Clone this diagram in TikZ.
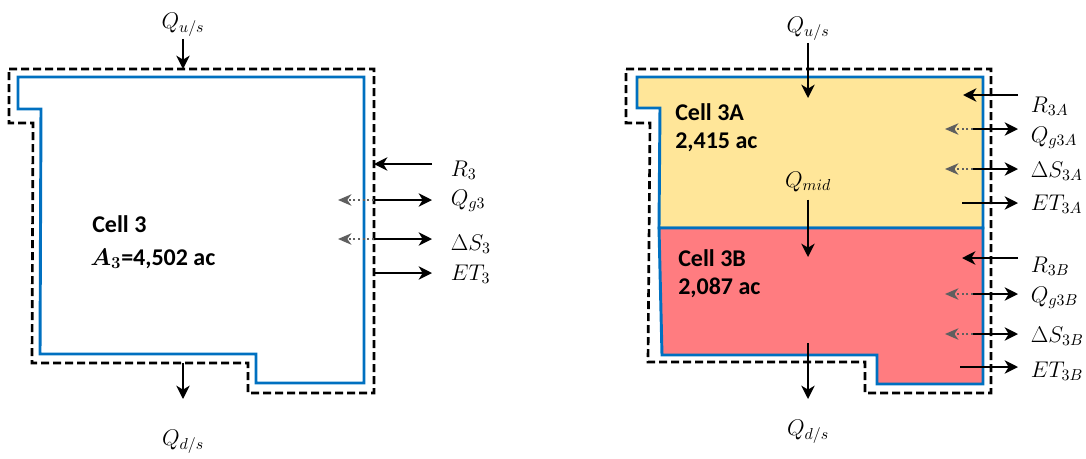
\RequirePackage{fix-cm}
\documentclass[tikz,border=0pt]{standalone}
\usepackage{fontspec}
\newfontfamily\cellfont{Carlito}
\usetikzlibrary{arrows.meta}
\definecolor{cell-blue}{HTML}{0070C0}
\definecolor{cell-gold}{HTML}{FFE699}
\definecolor{cell-red}{HTML}{FF7C80}
\definecolor{seep-gray}{HTML}{5F5F5F}

\begin{document}
\begin{tikzpicture}[x=0.75pt, y=-0.75pt,
      every node/.style={inner sep=0pt},
      lbl/.style={font=\fontsize{17}{20}\selectfont, anchor=base},
      sidelbl/.style={font=\fontsize{17}{20}\selectfont, anchor=base west, inner xsep=14pt},
      celltxt/.style={font=\cellfont\bfseries\fontsize{18}{22}\selectfont, anchor=base west},
      cellline/.style={draw=cell-blue, line width=2.2pt},
      bound/.style={draw=black, line width=2pt, dash pattern=on 6pt off 3pt},
      flux/.style={-{Stealth[length=10pt, width=10pt, inset=3pt]}, line width=1.5pt},
      seep/.style={-{Stealth[length=10pt, width=8.5pt, inset=3pt]}, line width=1.5pt, seep-gray, dotted}]
    \useasboundingbox (0,0) rectangle (1086,458);

    % left: cell 3 as one cell
    \draw[cellline] (18,77) -- (364,77) -- (364,383) -- (256,383) -- (256,354) -- (40,354) -- (41,109) -- (18,109) -- cycle;
    \draw[bound] (9,69) -- (374,69) -- (374,393) -- (248,393) -- (248,363) -- (32,363) -- (33,123) -- (9,123) -- cycle;
    \node[celltxt] (cell3) at (92,232) {Cell 3};
    \node[celltxt] (area3) at (90,265) {{\boldmath$A_3$}=4,502 ac};

    \node[lbl] (qusL) at (183,28) {$Q_{u/s}$};
    \coordinate (qusLin) at (183,69);
    \draw[flux, shorten <=2pt] (qusL) -- (qusLin);
    \node[lbl] (qdsL) at (183,445) {$Q_{d/s}$};
    \coordinate (qdsLout) at (183,363);
    \coordinate (qdsLend) at (183,399);
    \draw[flux] (qdsLout) -- (qdsLend);

    \node[sidelbl] (r3) at (432,176) {$R_3$};
    \node[sidelbl] (qg3) at (432,205) {$Q_{g3}$};
    \node[sidelbl] (ds3) at (432,250) {$\Delta S_3$};
    \node[sidelbl] (et3) at (432,280) {$ET_3$};
    \coordinate (r3b) at (374,164);
    \coordinate (qg3b) at (374,200);
    \coordinate (ds3b) at (374,239);
    \coordinate (et3b) at (374,273);
    \coordinate (qg3s) at (338,200);
    \coordinate (ds3s) at (338,239);
    \draw[flux] (r3.west |- r3b) -- (r3b);
    \draw[flux] (qg3b) -- (qg3.west |- qg3b);
    \draw[flux] (ds3b) -- (ds3.west |- ds3b);
    \draw[flux] (et3b) -- (et3.west |- et3b);
    \draw[seep] (qg3b) -- (qg3s);
    \draw[seep] (ds3b) -- (ds3s);

    % right: cell 3 split into 3A and 3B
    \filldraw[cellline, fill=cell-gold] (637,77) -- (983,77) -- (983,228) -- (659,228) -- (660,108) -- (637,108) -- cycle;
    \filldraw[cellline, fill=cell-red] (659,228) -- (983,228) -- (983,384) -- (877,384) -- (877,355) -- (662,355) -- cycle;
    \draw[bound] (626,69) -- (991,69) -- (991,393) -- (865,393) -- (865,362) -- (648,362) -- (650,123) -- (626,123) -- cycle;
    \node[celltxt] (cell3a) at (675,120) {Cell 3A};
    \node[celltxt] (area3a) at (675,148) {2,415 ac};
    \node[celltxt] (cell3b) at (678,266) {Cell 3B};
    \node[celltxt] (area3b) at (678,294) {2,087 ac};

    \node[lbl] (qusR) at (808,32) {$Q_{u/s}$};
    \coordinate (qusRin) at (808,98);
    \draw[flux, shorten <=2pt] (qusR) -- (qusRin);
    \node[lbl] (qmid) at (808,187) {$Q_{mid}$};
    \coordinate (qmidin) at (808,257);
    \draw[flux, shorten <=6pt] (qmid) -- (qmidin);
    \node[lbl] (qdsR) at (808,435) {$Q_{d/s}$};
    \coordinate (qdsRout) at (808,343);
    \coordinate (qdsRend) at (808,399);
    \draw[flux] (qdsRout) -- (qdsRend);

    \node[sidelbl, inner xsep=9.5pt] (r3a) at (1018,112) {$R_{3A}$};
    \node[sidelbl, inner xsep=9.5pt] (qg3a) at (1018,142) {$Q_{g3A}$};
    \node[sidelbl, inner xsep=9.5pt] (ds3a) at (1018,177) {$\Delta S_{3A}$};
    \node[sidelbl, inner xsep=9.5pt] (et3a) at (1018,210) {$ET_{3A}$};
    \node[sidelbl, inner xsep=9.5pt] (r3bb) at (1018,272) {$R_{3B}$};
    \node[sidelbl, inner xsep=9.5pt] (qg3bb) at (1018,302) {$Q_{g3B}$};
    \node[sidelbl, inner xsep=9.5pt] (ds3bb) at (1018,342) {$\Delta S_{3B}$};
    \node[sidelbl, inner xsep=9.5pt] (et3bb) at (1018,377) {$ET_{3B}$};
    \coordinate (r3ap) at (963,95);
    \coordinate (qg3ap) at (973,129);
    \coordinate (ds3ap) at (973,169);
    \coordinate (et3ap) at (962,203);
    \coordinate (r3bp) at (962,258);
    \coordinate (qg3bp) at (973,294);
    \coordinate (ds3bp) at (973,334);
    \coordinate (et3bp) at (960,367);
    \coordinate (qg3as) at (945,129);
    \coordinate (ds3as) at (945,169);
    \coordinate (qg3bs) at (945,294);
    \coordinate (ds3bs) at (945,334);
    \draw[flux] (r3a.west |- r3ap) -- (r3ap);
    \draw[flux] (qg3ap) -- (qg3a.west |- qg3ap);
    \draw[flux] (ds3ap) -- (ds3a.west |- ds3ap);
    \draw[flux] (et3ap) -- (et3a.west |- et3ap);
    \draw[flux] (r3bb.west |- r3bp) -- (r3bp);
    \draw[flux] (qg3bp) -- (qg3bb.west |- qg3bp);
    \draw[flux] (ds3bp) -- (ds3bb.west |- ds3bp);
    \draw[flux] (et3bp) -- (et3bb.west |- et3bp);
    \draw[seep] (qg3ap) -- (qg3as);
    \draw[seep] (ds3ap) -- (ds3as);
    \draw[seep] (qg3bp) -- (qg3bs);
    \draw[seep] (ds3bp) -- (ds3bs);
\end{tikzpicture}
\end{document}
